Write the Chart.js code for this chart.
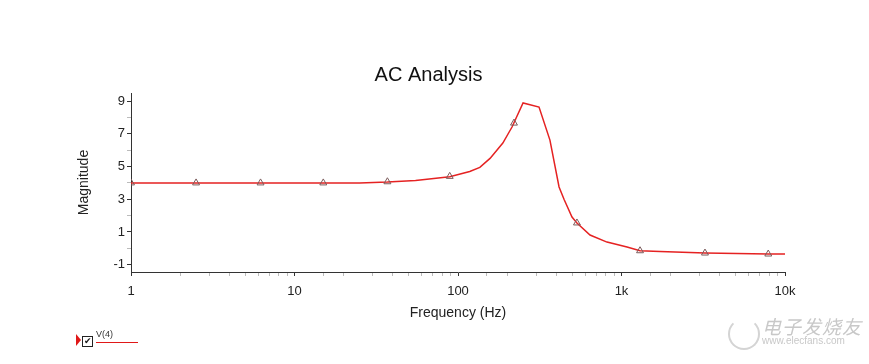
<!DOCTYPE html>
<html>
<head>
<meta charset="utf-8">
<script src="https://cdn.jsdelivr.net/npm/chart.js@4.4.1/dist/chart.umd.min.js"></script>
<style>
  html, body { margin: 0; padding: 0; background: #fff; }
  #wrap { position: relative; width: 869px; height: 364px; }
  canvas { position: absolute; left: 0; top: 0; }
  .lg-arrow { position: absolute; left: 76px; top: 334px; width: 0; height: 0;
    border-top: 6px solid transparent; border-bottom: 6px solid transparent; border-left: 5px solid #e01818; }
  .lg-box { position: absolute; left: 82px; top: 336px; width: 9px; height: 9px; border: 1px solid #222; background: #fff; }
  .lg-check { position: absolute; left: 84px; top: 336px; font: bold 9px "DejaVu Sans", sans-serif; color: #111; }
  .lg-text { position: absolute; left: 96px; top: 329px; font: 9px "Liberation Sans", Arial, sans-serif; color: #333; }
  .lg-line { position: absolute; left: 96px; top: 342px; width: 42px; height: 1px; background: #e01818; }
  .wm1 { position: absolute; left: 762px; top: 312px; font: italic 19px "Noto Sans CJK SC", sans-serif; color: #c8c8c8; letter-spacing: 1px; }
  .wm2 { position: absolute; left: 762px; top: 335px; font: 10px "Liberation Sans", sans-serif; color: #c8c8c8; }
  .wm-logo { position: absolute; left: 728px; top: 318px; width: 28px; height: 28px; border: 2px solid #d4d4d4; border-radius: 50%; border-top-color: transparent; }
</style>
</head>
<body>
<div id="wrap">
  <canvas id="c" width="869" height="364"></canvas>
  <div class="lg-arrow"></div>
  <div class="lg-box"></div>
  <div class="lg-check">✔</div>
  <div class="lg-text">V(4)</div>
  <div class="lg-line"></div>
  <div class="wm-logo"></div>
  <div class="wm1">电子发烧友</div>
  <div class="wm2">www.elecfans.com</div>
</div>
<script>
// Curve: frequency (Hz) and magnitude
const freqs = [1, 2.5, 6.2, 15, 25, 37, 55, 89, 118, 136, 157, 188, 214, 250, 313, 365, 415, 445, 498, 534, 642, 815, 1081, 1298, 1720, 3240, 7900, 10000];
const mags  = [4.0, 4.0, 4.0, 4.0, 4.0, 4.05, 4.15, 4.38, 4.7, 4.95, 5.5, 6.44, 7.42, 8.89, 8.64, 6.62, 3.75, 3.0, 1.91, 1.55, 0.81, 0.38, 0.08, -0.15, -0.2, -0.29, -0.35, -0.35];
// Triangle markers on the trace
const markerFreqs = [1, 2.5, 6.2, 15, 37, 89, 220, 534, 1298, 3240, 7900];
const markerMags  = [4.0, 4.0, 4.0, 4.0, 4.07, 4.4, 7.66, 1.55, -0.15, -0.29, -0.35];
// Axis tick labels
const xMajor = [1, 10, 100, 1000, 10000];
const xLabels = ['1', '10', '100', '1k', '10k'];
const yTicks = [-1, 0, 1, 2, 3, 4, 5, 6, 7, 8, 9];
const yLabeled = [-1, 1, 3, 5, 7, 9];

const FONT = '"Liberation Sans", Arial, sans-serif';
const lineData = freqs.map((f, i) => ({ x: f, y: mags[i] }));
const markerData = markerFreqs.map((f, i) => ({ x: f, y: markerMags[i] }));

new Chart(document.getElementById('c'), {
  type: 'scatter',
  data: {
    datasets: [
      { label: 'V(4)', data: lineData, showLine: true, borderColor: '#e52222', borderWidth: 1.5,
        pointRadius: 0, tension: 0, order: 2 },
      { label: 'markers', data: markerData, showLine: false, pointStyle: 'triangle', pointRadius: 4,
        pointBorderColor: '#7b5b5b', pointBackgroundColor: 'rgba(255,255,255,0)', pointBorderWidth: 1, order: 1 }
    ]
  },
  options: {
    responsive: false,
    animation: false,
    devicePixelRatio: 1,
    layout: { padding: { left: 72, right: 84, top: 63, bottom: 42 } },
    plugins: {
      legend: { display: false },
      tooltip: { enabled: false },
      title: { display: true, text: 'AC Analysis', color: '#111',
        font: { family: FONT, size: 20, weight: 'normal' }, padding: { top: 0, bottom: 6 } }
    },
    scales: {
      x: {
        type: 'logarithmic', min: 1, max: 10000,
        afterFit: s => { s.height = 50; },
        border: { display: true, color: '#333', width: 1 },
        grid: { drawOnChartArea: false, drawTicks: true, tickLength: 4,
          color: ctx => xMajor.includes(ctx.tick && ctx.tick.value) ? '#333' : '#bbb' },
        ticks: { autoSkip: false, maxRotation: 0, padding: 8, color: '#222',
          font: { family: FONT, size: 13 },
          callback: v => { const i = xMajor.indexOf(v); return i >= 0 ? xLabels[i] : ''; } },
        title: { display: true, text: 'Frequency (Hz)', color: '#222', padding: 0,
          font: { family: FONT, size: 14 } }
      },
      y: {
        min: -1.45, max: 9.5,
        afterFit: s => { s.width = 59; },
        afterBuildTicks: s => { s.ticks = yTicks.map(v => ({ value: v })); },
        border: { display: true, color: '#333', width: 1 },
        grid: { drawOnChartArea: false, drawTicks: true, tickLength: 4,
          color: ctx => yLabeled.includes(ctx.tick && ctx.tick.value) ? '#333' : '#bbb' },
        ticks: { autoSkip: false, padding: 2, color: '#222', font: { family: FONT, size: 13 },
          callback: v => yLabeled.includes(v) ? String(v) : '' },
        title: { display: true, text: 'Magnitude', color: '#222', padding: 4,
          font: { family: FONT, size: 14 } }
      }
    }
  }
});
</script>
</body>
</html>
